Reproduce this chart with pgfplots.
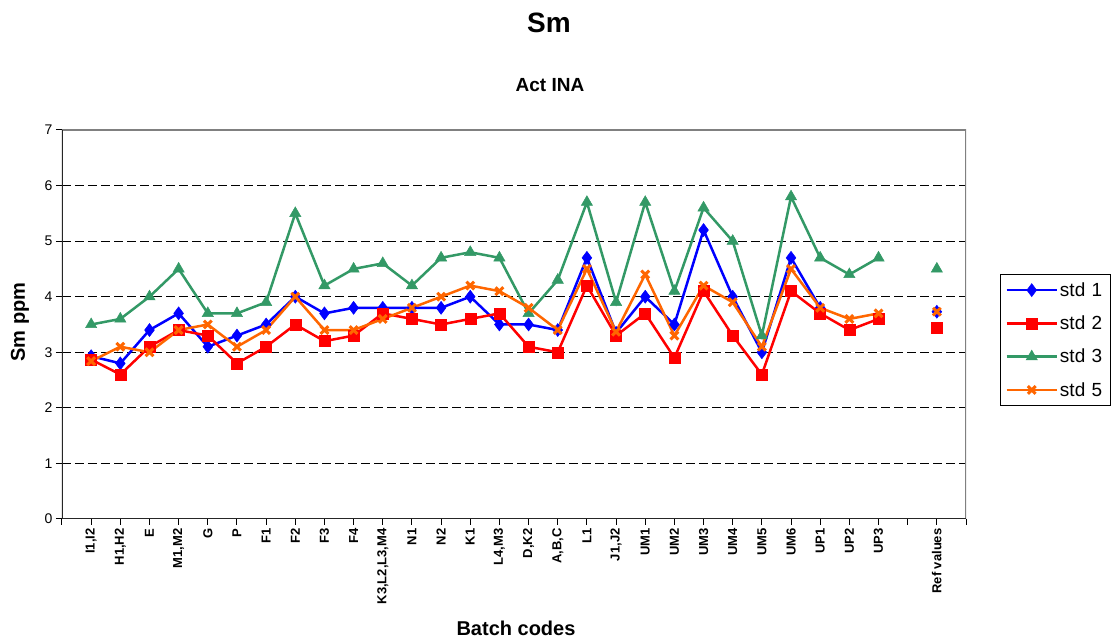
\documentclass[border=0pt]{standalone}
\usepackage{pgfplots}
\usepackage{pgfplotstable}
\pgfplotsset{compat=1.18}
\usepackage{fontspec}
\setmainfont{Liberation Sans}

\definecolor{c1}{RGB}{0,0,255}
\definecolor{c2}{RGB}{255,0,0}
\definecolor{c3}{RGB}{51,153,102}
\definecolor{c5}{RGB}{255,102,0}

% x = category index, 28 is the empty slot before Ref values
\pgfplotstableread{
x  s1   s2   s3   s5
0  2.93 2.87 3.5  2.84
1  2.8  2.6  3.6  3.1
2  3.4  3.1  4.0  3.0
3  3.7  3.4  4.5  3.4
4  3.1  3.3  3.7  3.5
5  3.3  2.8  3.7  3.1
6  3.5  3.1  3.9  3.4
7  4.0  3.5  5.5  4.0
8  3.7  3.2  4.2  3.4
9  3.8  3.3  4.5  3.4
10 3.8  3.7  4.6  3.6
11 3.8  3.6  4.2  3.8
12 3.8  3.5  4.7  4.0
13 4.0  3.6  4.8  4.2
14 3.5  3.7  4.7  4.1
15 3.5  3.1  3.7  3.8
16 3.4  3.0  4.3  3.4
17 4.7  4.2  5.7  4.5
18 3.35 3.3  3.9  3.37
19 4.0  3.7  5.7  4.4
20 3.5  2.9  4.1  3.3
21 5.2  4.1  5.6  4.2
22 4.0  3.3  5.0  3.9
23 3.0  2.6  3.3  3.1
24 4.7  4.1  5.8  4.5
25 3.8  3.7  4.7  3.8
26 nan  3.4  4.4  3.6
27 nan  3.6  4.7  3.7
28 nan  nan  nan  nan
29 3.73 3.45 4.5  3.73
}\smdata

\begin{document}
\begin{tikzpicture}
\begin{axis}[
  name=ax,
  scale only axis,
  width=904pt,
  height=389pt,
  xmin=-1, xmax=30,
  ymin=0, ymax=7,
  axis line style={draw=none},
  tick align=outside,
  xtick pos=bottom,
  ytick pos=left,
  major tick length=6pt,
  tick style={black, line width=1pt},
  xtick={-1,0,...,30},
  xticklabels={,{I1,I2},{H1,H2},E,{M1,M2},G,P,F1,F2,F3,F4,{K3,L2,L3,M4},N1,N2,K1,{L4,M3},{D,K2},{A,B,C},L1,{J1,J2},UM1,UM2,UM3,UM4,UM5,UM6,UP1,UP2,UP3,,Ref values,},
  x tick label style={rotate=90, anchor=east, font=\bfseries\fontsize{13}{13}\selectfont},
  ytick={0,1,...,7},
  y tick label style={font=\fontsize{14}{14}\selectfont},
  /pgf/number format/assume math mode=true,
  ymajorgrids=true,
  grid style={black, line width=1pt, dash pattern=on 9pt off 4pt},
  unbounded coords=jump,
  every axis plot/.append style={line width=2.5pt},
  legend style={
    at={(1.0376,0.6298)}, anchor=north west,
    draw=black, line width=1pt,
    font=\fontsize{19}{19}\selectfont,
    inner xsep=5pt, inner ysep=6pt, row sep=14pt,
    cells={anchor=west, text width=44pt}
  },
  legend image code/.code={
    \draw[mark repeat=2,mark phase=2] plot coordinates {(0pt,0pt) (25pt,0pt) (50pt,0pt)};
  },
]
\addplot[c1, mark=diamond*, mark size=6.5pt, mark options={line width=0.5pt}] table[x=x, y=s1] {\smdata};
\addlegendentry{std 1}
\addplot[c2, mark=square*, mark size=5.5pt, mark options={line width=0.5pt}] table[x=x, y=s2] {\smdata};
\addlegendentry{std 2}
\addplot[c3, mark=triangle*, mark size=6.5pt, mark options={line width=0.5pt}] table[x=x, y=s3] {\smdata};
\addlegendentry{std 3}
\addplot[c5, mark=x, mark size=5.5pt, every mark/.append style={line width=3pt}] table[x=x, y=s5] {\smdata};
\addlegendentry{std 5}
\draw[gray, line width=2pt] (rel axis cs:0,1) -- (rel axis cs:1,1) -- (rel axis cs:1,0);
\draw[black!85, line width=2pt] (rel axis cs:0,1) -- (rel axis cs:0,0) -- (rel axis cs:1,0);
\end{axis}
\node[font=\bfseries\fontsize{28}{28}\selectfont] at ([xshift=487pt,yshift=496pt]ax.south west) {Sm};
\node[font=\bfseries\fontsize{19}{19}\selectfont] at ([xshift=488pt,yshift=434pt]ax.south west) {Act INA};
\node[font=\bfseries\fontsize{20}{20}\selectfont, rotate=90] at ([xshift=-42pt,yshift=197pt]ax.south west) {Sm ppm};
\node[font=\bfseries\fontsize{20}{20}\selectfont] at ([xshift=454pt,yshift=-109pt]ax.south west) {Batch codes};
\pgfresetboundingbox
\useasboundingbox ([xshift=-62pt,yshift=-125pt]ax.south west) rectangle ([xshift=148pt,yshift=130pt]ax.north east);
\end{tikzpicture}
\end{document}
